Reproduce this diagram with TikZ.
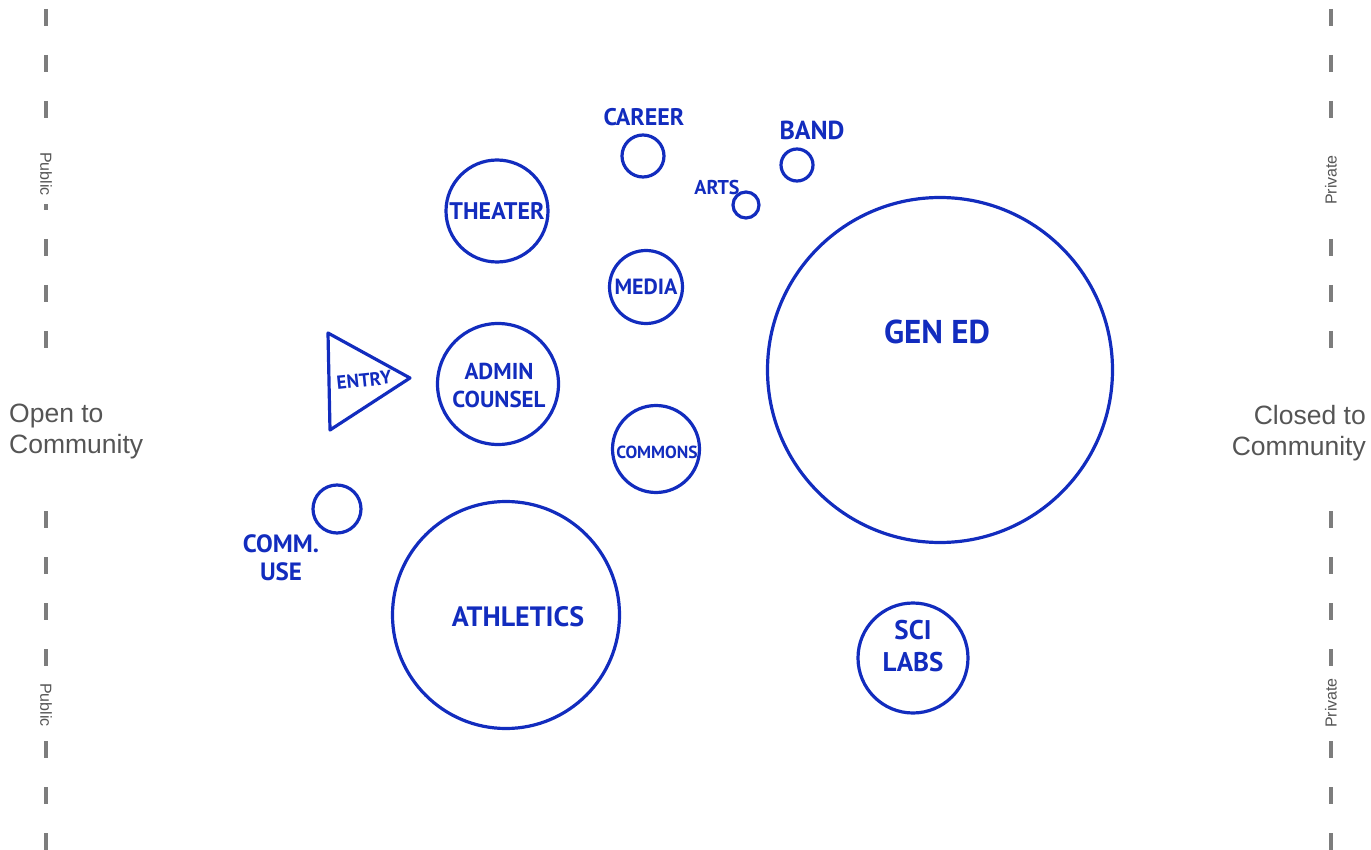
\documentclass[tikz,border=0pt]{standalone}
\usepackage{fontspec}
\setmainfont{Liberation Sans}
\newfontfamily\handfont{PT Sans}
\definecolor{handblue}{RGB}{18,44,190}
\definecolor{dashgrey}{RGB}{125,125,125}
\definecolor{labelgrey}{RGB}{85,85,85}
\begin{document}
\begin{tikzpicture}[x=1pt,y=-1pt,
  zone/.style={circle, draw=handblue, line width=3.2pt, inner sep=0pt, minimum size=#1},
  hand/.style 2 args={text=handblue, font=\handfont\bfseries\fontsize{#1}{#2}\selectfont, align=center, inner sep=0pt},
  divider/.style={draw=dashgrey, line width=4.5pt, dash pattern=on 17pt off 29pt},
  sidenote/.style={text=labelgrey, font=\fontsize{16}{18}\selectfont, fill=white, inner ysep=3pt, inner xsep=#1},
  sidelabel/.style={text=labelgrey, font=\fontsize{26.5}{31}\selectfont, inner sep=0pt}
  ]
\useasboundingbox (0,0) rectangle (1371,850);

% dividers
\coordinate (lt1) at (46,9);   \coordinate (lt2) at (46,350);
\coordinate (lb1) at (46,511); \coordinate (lb2) at (46,850);
\coordinate (rt1) at (1331,9);   \coordinate (rt2) at (1331,350);
\coordinate (rb1) at (1331,511); \coordinate (rb2) at (1331,850);
\draw[divider] (lt1) -- (lt2);
\draw[divider] (lb1) -- (lb2);
\draw[divider] (rt1) -- (rt2);
\draw[divider] (rb1) -- (rb2);
\node[sidenote=8pt, rotate=-90] (pubtop) at (46,174) {Public};
\node[sidenote=8pt, rotate=-90] (pubbot) at (46,705) {Public};
\node[sidenote=11pt, rotate=90] (privtop) at (1331,180) {Private};
\node[sidenote=7pt, rotate=90] (privbot) at (1331,703) {Private};

\node[sidelabel, anchor=west, align=left] (open) at (9,431) {Open to\\Community};
\node[sidelabel, anchor=east, align=right] (closed) at (1366,433) {Closed to\\Community};

% zones
\node[zone=102pt] (theater) at (497,211) {};
\node[zone=42pt] (career) at (643,156) {};
\node[zone=32pt] (band) at (797,165) {};
\node[zone=26pt] (arts) at (746,205) {};
\node[zone=73pt] (media) at (646,287) {};
\node[zone=345pt] (gened) at (940,370) {};
\node[zone=121pt] (admin) at (498,384) {};
\node[zone=87pt] (commons) at (656,449) {};
\node[zone=48pt] (comm) at (337,509) {};
\node[zone=227pt] (athletics) at (506,615) {};
\node[zone=110pt] (scilabs) at (913,658) {};

% entry triangle
\coordinate (e1) at (328,333);
\coordinate (e2) at (410,378);
\coordinate (e3) at (330,430);
\draw[draw=handblue, line width=3.2pt, line join=round] (e1) -- (e2) -- (e3) -- cycle;

% labels
\node[hand={24}{26}] (theaterlbl) at (theater.center) {THEATER};
\node[hand={24}{26}] (careerlbl) at (644,117) {CAREER};
\node[hand={26}{28}] (bandlbl) at (812,130) {BAND};
\node[hand={20}{22}] (artslbl) at (717,188) {ARTS};
\node[hand={22}{24}] (medialbl) at (media.center) {MEDIA};
\node[hand={33}{36}] (genedlbl) at (937,332) {GEN ED};
\node[hand={23}{28}] (adminlbl) at (499,385) {ADMIN\\COUNSEL};
\node[hand={19}{21}, rotate=6] (entrylbl) at (364,380) {ENTRY};
\node[hand={17.5}{20}] (commonslbl) at (657,452) {COMMONS};
\node[hand={25}{28}] (commlbl) at (281,558) {COMM.\\USE};
\node[hand={28}{30}] (athlbl) at (518,617) {ATHLETICS};
\node[hand={27}{32}] (scilbl) at (913,646) {SCI\\LABS};
\end{tikzpicture}
\end{document}
